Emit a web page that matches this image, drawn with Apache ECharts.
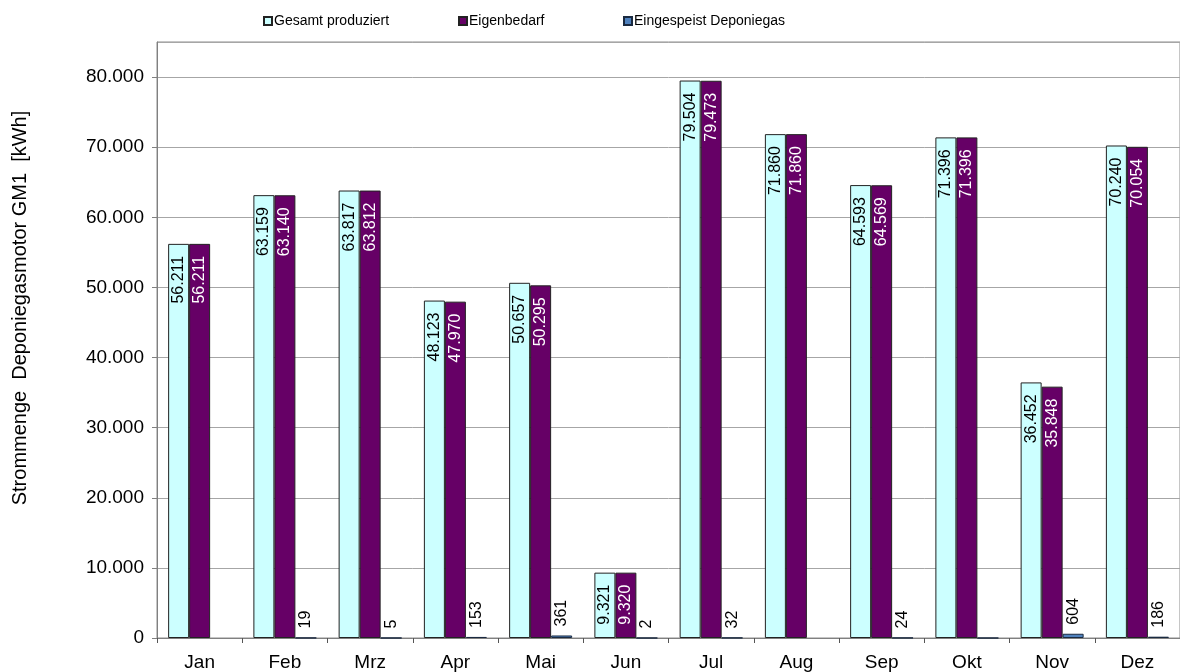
<!DOCTYPE html>
<html>
<head>
<meta charset="utf-8">
<script src="https://cdn.jsdelivr.net/npm/echarts@6/dist/echarts.min.js"></script>
<style>
html,body{margin:0;padding:0;background:#fff;}
#main{width:1180px;height:672px;}
</style>
</head>
<body>
<div id="main"></div>
<script>
const categories = ['Jan','Feb','Mrz','Apr','Mai','Jun','Jul','Aug','Sep','Okt','Nov','Dez'];
const gesamtProduziert = [56211, 63159, 63817, 48123, 50657, 9321, 79504, 71860, 64593, 71396, 36452, 70240];
const eigenbedarf = [56211, 63140, 63812, 47970, 50295, 9320, 79473, 71860, 64569, 71396, 35848, 70054];
const eingespeist = [null, 19, 5, 153, 361, 2, 32, null, 24, 0, 604, 186];
const seriesNames = ['Gesamt produziert', 'Eigenbedarf', 'Eingespeist Deponiegas'];
const yAxisTitle = 'Strommenge  Deponiegasmotor GM1  [kWh]';
const yTicks = { min: 0, max: 85000, interval: 10000 };

function fmt(v) {
  return Math.round(v).toString().replace(/\B(?=(\d{3})+(?!\d))/g, '.');
}

const FONT = '"Liberation Sans", Arial, sans-serif';
const chart = echarts.init(document.getElementById('main'), null, { renderer: 'canvas' });

const legendBase = {
  top: 9, itemWidth: 8, itemHeight: 8, itemGap: 4,
  icon: 'rect', selectedMode: false,
  textStyle: { fontFamily: FONT, fontSize: 14, color: '#000', padding: [0,0,0,-3] }
};

const insideLabel = (color) => ({
  show: true, position: 'insideTop', rotate: 90, align: 'right', verticalAlign: 'middle',
  distance: 12, color: color, fontFamily: FONT, fontSize: 16,
  formatter: p => fmt(p.value)
});

chart.setOption({
  animation: false,
  backgroundColor: '#fff',
  legend: [
    Object.assign({}, legendBase, { left: 258, data: [seriesNames[0]] }),
    Object.assign({}, legendBase, { left: 453, data: [seriesNames[1]] }),
    Object.assign({}, legendBase, { left: 618, data: [seriesNames[2]] })
  ],
  graphic: [{
    type: 'text', x: 20, y: 308, rotation: Math.PI / 2,
    style: { text: yAxisTitle, fill: '#000', font: '20px "Liberation Sans", Arial, sans-serif', align: 'center', verticalAlign: 'middle' }
  }],
  grid: { left: 157, right: -3, top: 42, bottom: 33, show: true, borderColor: '#8c8c8c', borderWidth: 1, backgroundColor: 'transparent' },
  xAxis: {
    type: 'category', data: categories, boundaryGap: true,
    axisLine: { lineStyle: { color: '#808080', width: 1 } },
    axisTick: { show: true, alignWithLabel: false, length: 5, lineStyle: { color: '#555' } },
    axisLabel: { color: '#000', fontFamily: FONT, fontSize: 19, margin: 15 }
  },
  yAxis: {
    type: 'value', min: yTicks.min, max: yTicks.max, interval: yTicks.interval,
    axisLine: { show: true, lineStyle: { color: '#808080' } },
    axisTick: { show: true, length: 5, lineStyle: { color: '#808080' } },
    axisLabel: { color: '#000', fontFamily: FONT, fontSize: 19, margin: 13, showMaxLabel: false, formatter: v => fmt(v) },
    splitLine: { show: true, lineStyle: { color: '#a6a6a6', width: 1 } }
  },
  series: [
    {
      name: seriesNames[0], type: 'bar', data: gesamtProduziert, barWidth: 21, barGap: '0%',
      itemStyle: { color: '#CCFFFF', borderColor: '#222', borderWidth: 1 },
      label: insideLabel('#000')
    },
    {
      name: seriesNames[1], type: 'bar', data: eigenbedarf, barWidth: 21, barGap: '0%',
      itemStyle: { color: '#660066', borderColor: '#222', borderWidth: 1 },
      label: insideLabel('#fff')
    },
    {
      name: seriesNames[2], type: 'bar', data: eingespeist, barWidth: 21, barGap: '0%',
      itemStyle: { color: '#4F81BD', borderColor: '#1a2a40', borderWidth: 1 },
      label: {
        show: true, position: 'top', rotate: 90, align: 'left', verticalAlign: 'middle',
        distance: 9, color: '#000', fontFamily: FONT, fontSize: 16,
        formatter: p => (p.value ? fmt(p.value) : '')
      }
    }
  ]
});
</script>
</body>
</html>
